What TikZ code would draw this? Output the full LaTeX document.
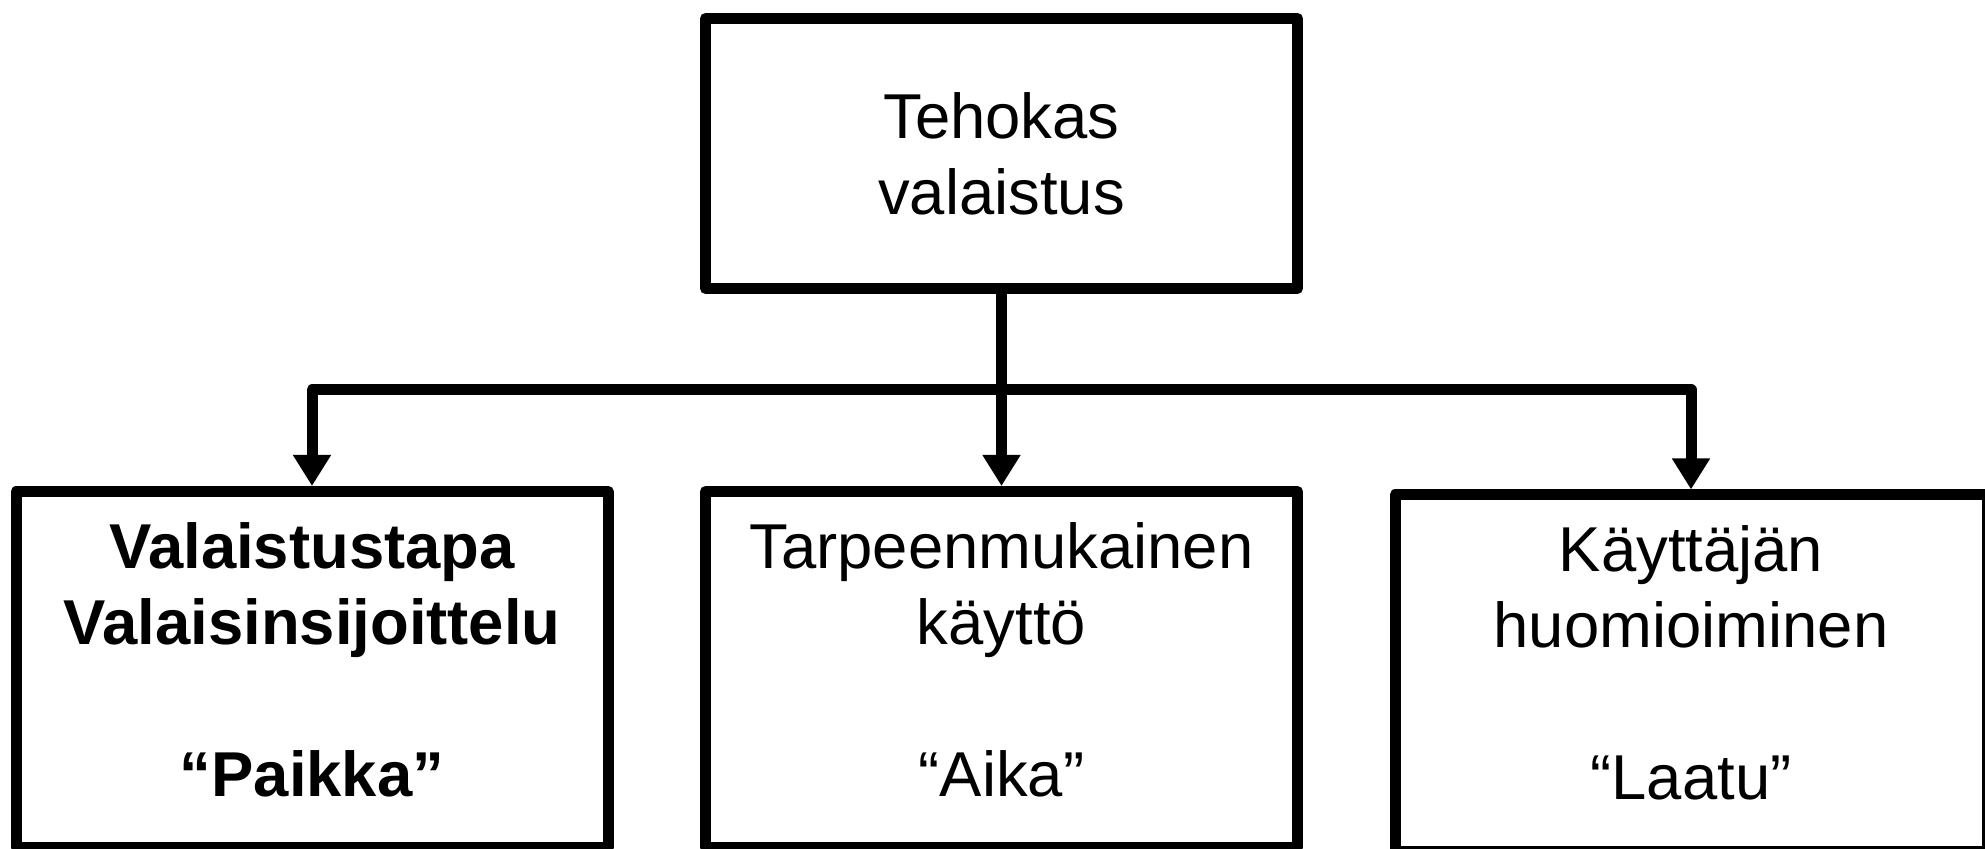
\documentclass[tikz,border=0pt]{standalone}
\usepackage{fontspec}
\setmainfont{Liberation Sans}
\usetikzlibrary{arrows.meta, positioning}

\begin{document}
\begin{tikzpicture}[node distance=96pt]
\tikzstyle{box} = [rectangle, minimum width=296pt, draw=black, line width=5.5pt, line join=round, align=center, font=\fontsize{31.7}{38}\selectfont]
\tikzstyle{bold} = [font=\fontsize{31.7}{38}\selectfont\bfseries]
\tikzstyle{sub} = [minimum height=178pt, text depth=10pt]
\tikzstyle{link} = [line width=5.5pt, line join=round, -{Triangle[width=18pt, length=15.5pt]}]
\useasboundingbox (0,0) rectangle (992.5pt,-424.5pt);

\node (T) [box, minimum height=135pt] at (500.75pt,-76.75pt) {Tehokas\\valaistus};
\node (A) [box, sub, below=of T] {Tarpeenmukainen\\käyttö\\[38pt]“Aika”};
\node (P) [box, sub, bold, left=43.25pt of A] {Valaistustapa\\Valaisinsijoittelu\\[38pt]“Paikka”};
\node (L) [box, sub, right=43.25pt of A, yshift=-1.75pt] {Käyttäjän\\huomioiminen\\[38pt]“Laatu”};

\coordinate [below=48pt of T] (J);
\draw [link] (T) -- (A);
\draw [link] (J) -| (P);
\draw [link] (J) -| (L);

\end{tikzpicture}
\end{document}
